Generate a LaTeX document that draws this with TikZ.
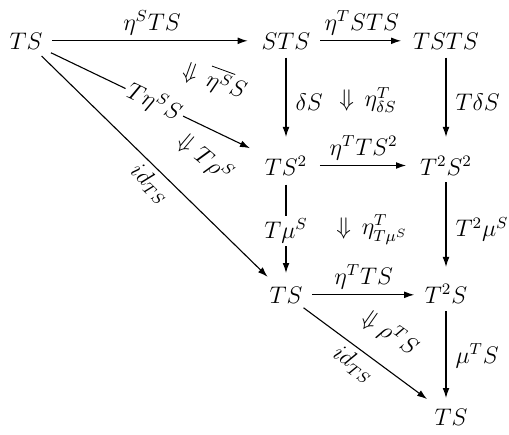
\documentclass[12pt,tikz,border=0pt]{standalone}
\usepackage{tikz}
\usetikzlibrary{arrows.meta}

\begin{document}
\begin{tikzpicture}[
  x=0.5pt,y=-0.5pt,
  obj/.style={inner sep=0pt,outer sep=0pt,anchor=base},
  arr/.style={-{Latex[length=5pt,width=3.4pt]},line width=0.55pt},
  lab/.style={inner sep=2.5pt},
  onwire/.style={fill=white,inner sep=1.5pt},
  cell/.style={inner sep=0pt},
]
  \useasboundingbox (0,0) rectangle (509,434);

  % objects, set on their baselines
  \node[obj] (ts1)  at (26,49)   {$TS$};
  \node[obj] (sts)  at (286,49)  {$STS$};
  \node[obj] (tsts) at (446,49)  {$TSTS$};
  \node[obj] (ts2)  at (286,175) {$TS^2$};
  \node[obj] (ttss) at (446,175) {$T^2S^2$};
  \node[obj] (ts3)  at (286,303) {$TS$};
  \node[obj] (tts)  at (446,303) {$T^2S$};
  \node[obj] (ts4)  at (451,425) {$TS$};

  % horizontal 1-cells
  \draw[arr,shorten <=5pt,shorten >=7pt] (ts1.east) -- (ts1.east -| sts.west)
    node[lab,midway,above] {$\eta^S TS$};
  \draw[arr,shorten <=5pt,shorten >=6pt] (sts.east) -- (sts.east -| tsts.west)
    node[lab,midway,above] {$\eta^T STS$};
  \draw[arr,shorten <=6.3pt,shorten >=7pt] (ts2.east) -- (ts2.east -| ttss.west)
    node[lab,midway,above] {$\eta^T TS^2$};
  \draw[arr,shorten <=5pt,shorten >=5.3pt] (ts3.east) -- (ts3.east -| tts.west)
    node[lab,midway,above] {$\eta^T TS$};

  % vertical 1-cells
  \draw[arr,shorten <=4.3pt,shorten >=9.5pt] (sts.south) -- (sts.south |- ts2.north)
    node[lab,midway,right=2pt] {$\delta S$};
  \draw[arr,shorten <=4.3pt,shorten >=9.5pt] (tsts.south) -- (tsts.south |- ttss.north)
    node[lab,midway,right=2pt] {$T\delta S$};
  \draw[arr,shorten <=4.8pt,shorten >=6.8pt] (ts2.south) -- (ts2.south |- ts3.north)
    node[onwire,midway] {$T\mu^S$};
  \draw[arr,shorten <=3.7pt,shorten >=8.5pt] (ttss.south) -- (ttss.south |- tts.north)
    node[lab,midway,right=2pt] {$T^2\mu^S$};
  \draw[arr,shorten <=4.2pt,shorten >=5.3pt] (tts.south) -- (tts.south |- ts4.north)
    node[lab,midway,right=2pt] {$\mu^T S$};

  % diagonal 1-cells
  \draw[arr,shorten <=4.7pt,shorten >=9pt] (ts1) -- (ts2)
    node[onwire,midway,sloped] {$T\eta^S S$};
  \draw[arr,shorten <=5pt,shorten >=7pt] (ts1) -- (ts3)
    node[lab,pos=.52,sloped,below] {$id_{TS}$};
  \draw[arr,shorten <=4pt,shorten >=8pt] (ts3) -- (ts4)
    node[lab,pos=.46,sloped,below] {$id_{TS}$};

  % 2-cells
  \node[cell,rotate=-20] (c1) at (215,80)  {$\Downarrow\,\overline{\eta^S}S$};
  \node[cell]            (c2) at (368,100) {$\Downarrow\,\eta^T_{\delta S}$};
  \node[cell,rotate=-40] (c3) at (205,158) {$\Downarrow T\rho^S$};
  \node[cell]            (c4) at (372,230) {$\Downarrow\,\eta^T_{T\mu^S}$};
  \node[cell,rotate=-35] (c5) at (390,333) {$\Downarrow\rho^T S$};
\end{tikzpicture}
\end{document}
